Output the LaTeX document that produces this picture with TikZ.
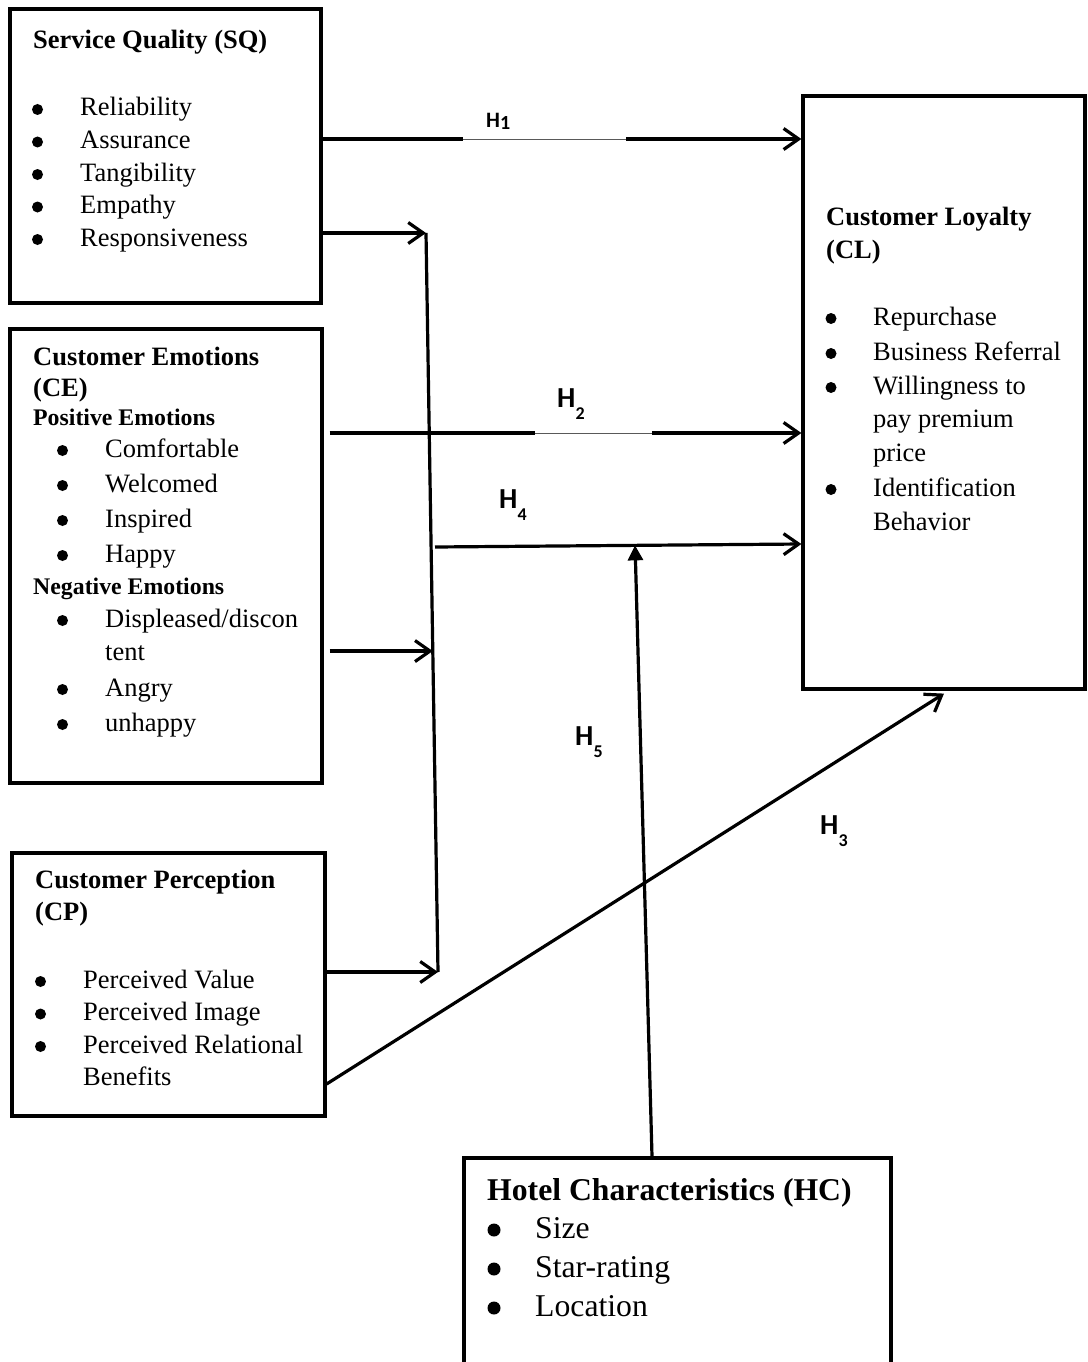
\documentclass[tikz,border=0pt]{standalone}
\usepackage{fontspec}
\setmainfont{Liberation Serif}
\newfontfamily\hfont{Carlito}
\usetikzlibrary{arrows.meta,calc}
\tikzset{
  box/.style={draw, line width=3.2pt, rectangle, inner sep=0pt},
  conn/.style={line width=3.2pt, -{Straight Barb[length=15pt,width=21pt,line width=3.2pt]}},
  modarrow/.style={line width=3.2pt, -{Triangle[length=15pt,width=15pt]}},
  bus/.style={line width=3.2pt},
  thinpart/.style={line width=1.2pt, black!65},
  gap/.style={white, line width=3.6pt},
  txt/.style={inner sep=0pt, anchor=base west, font=\fontsize{26.5}{30}\selectfont},
  ttl/.style={txt, font=\bfseries\fontsize{26.5}{30}\selectfont},
  subttl/.style={txt, font=\bfseries\fontsize{23.8}{26}\selectfont},
  bigttl/.style={txt, font=\bfseries\fontsize{31.7}{36}\selectfont},
  bigtxt/.style={txt, font=\fontsize{31.7}{36}\selectfont},
  hyp/.style={inner sep=0pt, anchor=base west, font=\hfont\bfseries\fontsize{29}{29}\selectfont},
}
\newcommand\myitem[5]{%
  \fill ({#2},{#4-6.5}) circle (5.5pt);
  \node[txt] (#1) at (#3,#4) {#5};}
\newcommand\hsub[1]{H\raisebox{-12pt}{\fontsize{18}{18}\selectfont #1}}
\begin{document}
\begin{tikzpicture}[x=1pt,y=-1pt]
\path[use as bounding box, fill=white] (0,0) rectangle (1087,1362);

% boxes
\node[box, minimum width=311pt, minimum height=294pt] (sq) at (165.5,156) {};
\node[box, minimum width=312pt, minimum height=454pt] (ce) at (166,556) {};
\node[box, minimum width=313pt, minimum height=263pt] (cp) at (168.5,984.5) {};
\node[box, minimum width=282pt, minimum height=593pt] (cl) at (944,392.5) {};
\node[box, minimum width=427pt, minimum height=209pt] (hc) at (677.5,1262.5) {};

% Service Quality text
\node[ttl] (sq-t) at (33,49) {Service Quality (SQ)};
\myitem{sq-1}{37.5}{80}{116}{Reliability}
\myitem{sq-2}{37.5}{80}{148.5}{Assurance}
\myitem{sq-3}{37.5}{80}{181}{Tangibility}
\myitem{sq-4}{37.5}{80}{213.5}{Empathy}
\myitem{sq-5}{37.5}{80}{246}{Responsiveness}

% Customer Emotions text
\node[ttl] (ce-t1) at (33,365) {Customer Emotions};
\node[ttl] (ce-t2) at (33,396) {(CE)};
\node[subttl] (ce-p) at (33,425) {Positive Emotions};
\myitem{ce-1}{62.5}{105}{457}{Comfortable}
\myitem{ce-2}{62.5}{105}{492}{Welcomed}
\myitem{ce-3}{62.5}{105}{527}{Inspired}
\myitem{ce-4}{62.5}{105}{562}{Happy}
\node[subttl] (ce-n) at (33,594) {Negative Emotions};
\myitem{ce-5}{62.5}{105}{627}{Displeased/discon}
\node[txt] (ce-5b) at (105,660) {tent};
\myitem{ce-6}{62.5}{105}{696}{Angry}
\myitem{ce-7}{62.5}{105}{731}{unhappy}

% Customer Perception text
\node[ttl] (cp-t1) at (35,888) {Customer Perception};
\node[ttl] (cp-t2) at (35,920) {(CP)};
\myitem{cp-1}{40.5}{83}{988}{Perceived Value}
\myitem{cp-2}{40.5}{83}{1020.5}{Perceived Image}
\myitem{cp-3}{40.5}{83}{1053}{Perceived Relational}
\node[txt] (cp-3b) at (83,1085) {Benefits};

% Customer Loyalty text
\node[ttl] (cl-t1) at (826,225) {Customer Loyalty};
\node[ttl] (cl-t2) at (826,258) {(CL)};
\myitem{cl-1}{831}{873}{325}{Repurchase}
\myitem{cl-2}{831}{873}{360}{Business Referral}
\myitem{cl-3}{831}{873}{394}{Willingness to}
\node[txt] (cl-3b) at (873,427) {pay premium};
\node[txt] (cl-3c) at (873,461) {price};
\myitem{cl-4}{831}{873}{496}{Identification}
\node[txt] (cl-4b) at (873,530) {Behavior};

% Hotel Characteristics text
\node[bigttl] (hc-t) at (487,1200) {Hotel Characteristics (HC)};
\fill (494,1230) circle (6.5pt);
\node[bigtxt] (hc-1) at (535,1238) {Size};
\fill (494,1269) circle (6.5pt);
\node[bigtxt] (hc-2) at (535,1277) {Star-rating};
\fill (494,1308) circle (6.5pt);
\node[bigtxt] (hc-3) at (535,1316) {Location};

% connector points
\coordinate (vtop) at (426,233);
\coordinate (vbot) at (438,972);
\coordinate (vce) at ($(vtop)!0.5657!(vbot)$);
\coordinate (ceR) at ([xshift=6pt]ce.east);
\coordinate (h4s) at (435,547);
\coordinate (h4e) at (cl.west |- 0,544);
\coordinate (h5e) at ($(h4s)!0.546!(h4e)$);

% connectors
\draw[conn] (sq.east |- 0,139) -- (cl.west |- 0,139);
\draw[gap] (463,139) -- (626,139);
\draw[thinpart] (463,139.5) -- (626,139.5);
\draw[conn] (sq.east |- vtop) -- (vtop);
\draw[bus] (vtop) -- (vbot);
\draw[conn] (ceR |- 0,433) -- (cl.west |- 0,433);
\draw[gap] (535,433) -- (652,433);
\draw[thinpart] (535,433.5) -- (652,433.5);
\draw[conn] (ceR |- vce) -- (vce);
\draw[conn] (h4s) -- (h4e);
\draw[conn] (cp.east |- vbot) -- (vbot);
\draw[modarrow] (hc.north -| 652,0) -- (h5e);
\draw[conn] (cp.east |- 0,1084) -- ([yshift=-3pt]cl.south);

% hypothesis labels
\node[hyp, font=\hfont\bfseries\fontsize{22}{22}\selectfont] (h1) at (486,128) {H\raisebox{-2pt}{\fontsize{20}{20}\selectfont 1}};
\node[hyp] (h2) at (557,407) {\hsub{2}};
\node[hyp] (h4) at (499,508) {\hsub{4}};
\node[hyp] (h5) at (575,745) {\hsub{5}};
\node[hyp] (h3) at (820,834) {\hsub{3}};
\end{tikzpicture}
\end{document}
